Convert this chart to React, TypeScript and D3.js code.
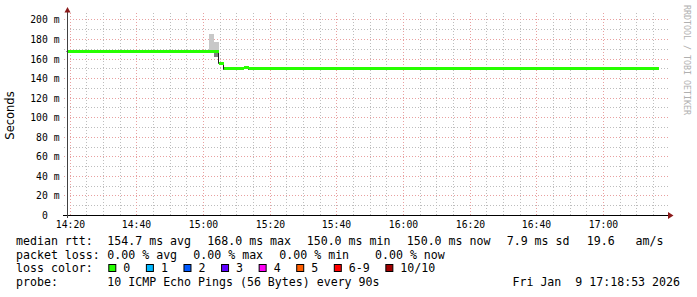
import React from "react";
import * as d3 from "d3";

// ---------- data ----------
const graphStart = "2026-01-09 14:18:53";
const graphEnd = "2026-01-09 17:18:53";

// median rtt as steps: boundaries and values (ms)
const medianBounds = [
  "2026-01-09 14:18:53",
  "2026-01-09 15:04:38",
  "2026-01-09 15:06:08",
  "2026-01-09 15:12:08",
  "2026-01-09 15:13:38",
  "2026-01-09 17:16:38",
];
const medianMs = [168.0, 156.0, 150.0, 151.0, 150.0];
const medianLoss = [0, 0, 0, 0, 0];

// smoke (spread of the pings) for the few samples that show it
const smokeStarts = ["2026-01-09 15:01:38", "2026-01-09 15:03:08"];
const smokeEnds = ["2026-01-09 15:03:08", "2026-01-09 15:04:38"];
const smokeMedian = [168.0, 168.0];
const smokeHigh = [185.7, 177.5];
const smokeLow = [168.0, 162.5];

const yMajor = [0, 20, 40, 60, 80, 100, 120, 140, 160, 180, 200];
const yMinor = [10, 30, 50, 70, 90, 110, 130, 150, 170, 190];

const lossLabels = ["0", "1", "2", "3", "4", "5", "6-9", "10/10"];
const lossColors = ["#26ff00", "#00b8ff", "#0059ff", "#5e00ff", "#ff00f5", "#ff5e00", "#ff0000", "#a10000"];

const rttItems = ["154.7 ms avg", "168.0 ms max", "150.0 ms min", "150.0 ms now", "7.9 ms sd", "19.6   am/s"];
const rttItemX = [107.3, 207.3, 306.7, 406.7, 506.7, 586.7];
const lossItems = ["0.00 % avg", "0.00 % max", "0.00 % min", "0.00 % now"];
const lossItemX = [107.3, 193.3, 279.3, 375];
const probeText = "10 ICMP Echo Pings (56 Bytes) every 90s";
const dateText = "Fri Jan  9 17:18:53 2026";

// ---------- layout ----------
const W = 697;
const H = 297;
const left = 66.5;
const right = 666.5;
const bottom = 215.5;
const top = 15.5;
const mono = "'DejaVu Sans Mono', monospace";
const legendFont = 11.6;
const cw = legendFont * 0.602;

const parse = d3.timeParse("%Y-%m-%d %H:%M:%S");

export default function App() {
  const x = d3.scaleTime().domain([parse(graphStart)!, parse(graphEnd)!]).range([left, right]);
  const y = d3.scaleLinear().domain([0, 204.6]).range([bottom, top]);

  const minorT = x.ticks(d3.timeMinute.every(5)!).filter((t) => t.getMinutes() % 20 !== 0);
  const majorT = x.ticks(d3.timeMinute.every(20)!);
  const fmt = d3.timeFormat("%H:%M");

  const crisp = (v: number) => Math.floor(v) + 0.5;

  // black median line (steps)
  const pts: [number, number][] = [];
  medianMs.forEach((v, i) => {
    pts.push([Math.round(x(parse(medianBounds[i])!)) - 0.5, Math.round(y(v)) + 0.5]);
  });
  pts.push([Math.round(x(parse(medianBounds[medianBounds.length - 1])!)) - 0.5, Math.round(y(medianMs[medianMs.length - 1])) + 0.5]);
  const stepLine = d3.line().curve(d3.curveStepAfter)(pts) || "";

  // legend loss color layout
  let lx = 108.3;
  const lossLegend = lossLabels.map((lab, i) => {
    const item = { sx: lx, tx: lx + 15, lab, color: lossColors[i] };
    lx = lx + 15 + lab.length * cw + 15.6;
    return item;
  });

  const legendY = [245, 258.5, 272, 285.5];

  return (
    <svg
      width={W}
      height={H}
      style={{ position: "absolute", left: 0, top: 0, display: "block", background: "#fff" }}
    >
      <rect x={0} y={0} width={W} height={H} fill="#ffffff" />

      {/* minor grid */}
      <g stroke="#bdbdbd" strokeWidth={1} strokeDasharray="1,2">
        {yMinor.map((v) => (
          <line key={"ym" + v} x1={64} x2={669} y1={crisp(y(v))} y2={crisp(y(v))} />
        ))}
        {minorT.map((t) => (
          <line key={"xm" + t.getTime()} x1={crisp(x(t))} x2={crisp(x(t))} y1={13} y2={bottom} />
        ))}
      </g>
      {/* major grid */}
      <g stroke="#e8a0a0" strokeWidth={1} strokeDasharray="1,2">
        {yMajor.filter((v) => v > 0).map((v) => (
          <line key={"yM" + v} x1={64} x2={669} y1={crisp(y(v))} y2={crisp(y(v))} />
        ))}
        {majorT.map((t) => (
          <line key={"xM" + t.getTime()} x1={crisp(x(t))} x2={crisp(x(t))} y1={13} y2={bottom} />
        ))}
      </g>

      {/* smoke */}
      {smokeStarts.map((s, i) => {
        const x0 = Math.round(x(parse(s)!));
        const x1 = Math.round(x(parse(smokeEnds[i])!));
        return (
          <g key={"sm" + i}>
            <rect x={x0} width={x1 - x0} y={Math.round(y(smokeHigh[i]))} height={Math.round(y(smokeMedian[i])) - Math.round(y(smokeHigh[i]))} fill="#c8c8c8" />
            <rect x={x0} width={x1 - x0} y={Math.round(y(smokeMedian[i]))} height={Math.round(y(smokeLow[i])) - Math.round(y(smokeMedian[i]))} fill="#808080" />
          </g>
        );
      })}

      {/* median black line */}
      <path d={stepLine} fill="none" stroke="#202020" strokeWidth={1} />

      {/* median colored bands */}
      {medianMs.map((v, i) => {
        const x0 = Math.round(x(parse(medianBounds[i])!));
        const x1 = Math.round(x(parse(medianBounds[i + 1])!));
        return (
          <rect key={"md" + i} x={x0} width={x1 - x0} y={Math.round(y(v) - 1.5)} height={3} fill={lossColors[medianLoss[i]]} />
        );
      })}

      {/* axes */}
      <line x1={63} x2={668} y1={bottom} y2={bottom} stroke="#000" strokeWidth={1} />
      <line x1={67.5} x2={67.5} y1={12} y2={218} stroke="#404040" strokeWidth={1} />
      <path d="M668,212 L673.5,215.5 L668,219 Z" fill="#8b1a1a" />
      <path d="M64.5,12.5 L67.5,7 L70.5,12.5 Z" fill="#8b1a1a" />

      {/* y tick labels */}
      <g fontFamily={mono} fontSize={9.73} fill="#000">
        {yMajor.map((v) => (
          <g key={"yl" + v}>
            <text x={47.8} y={crisp(y(v)) + 3.5} textAnchor="end">{v}</text>
            {v > 0 && <text x={53.7} y={crisp(y(v)) + 3.5}>m</text>}
          </g>
        ))}
        {majorT.map((t) => (
          <text key={"xl" + t.getTime()} x={crisp(x(t))} y={227.5} textAnchor="middle">{fmt(t)}</text>
        ))}
      </g>

      {/* y axis title */}
      <text
        transform={`translate(14,${(top + bottom) / 2}) rotate(-90)`}
        textAnchor="middle"
        fontFamily="'DejaVu Sans', sans-serif"
        fontSize={11.5}
        fill="#000"
      >
        Seconds
      </text>

      {/* watermark */}
      <text
        transform="translate(684,5) rotate(90)"
        fontFamily={mono}
        fontSize={8.3}
        fill="#b0b0b0"
      >
        RRDTOOL / TOBI OETIKER
      </text>

      {/* legend */}
      <g fontFamily={mono} fontSize={legendFont} fill="#000" style={{ whiteSpace: "pre" }}>
        <text x={16} y={legendY[0]}>median rtt:</text>
        {rttItems.map((s, i) => (
          <text key={"r" + i} x={rttItemX[i]} y={legendY[0]} xmlSpace="preserve">{s}</text>
        ))}
        <text x={16} y={legendY[1]}>packet loss:</text>
        {lossItems.map((s, i) => (
          <text key={"l" + i} x={lossItemX[i]} y={legendY[1]} xmlSpace="preserve">{s}</text>
        ))}
        <text x={16} y={legendY[2]}>loss color:</text>
        {lossLegend.map((it, i) => (
          <g key={"lc" + i}>
            <rect x={it.sx + 0.5} y={264.5} width={7} height={7} fill={it.color} stroke="#000" strokeWidth={1} />
            <text x={it.tx} y={legendY[2]}>{it.lab}</text>
          </g>
        ))}
        <text x={16} y={legendY[3]}>probe:</text>
        <text x={107.3} y={legendY[3]}>{probeText}</text>
        <text x={680} y={legendY[3]} textAnchor="end" xmlSpace="preserve">{dateText}</text>
      </g>
    </svg>
  );
}
